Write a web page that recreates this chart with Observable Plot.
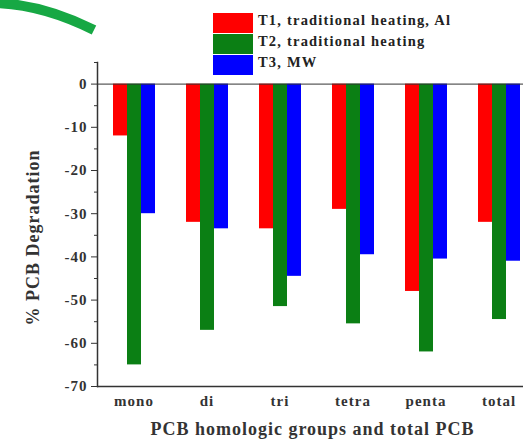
<!DOCTYPE html>
<html><head><meta charset="utf-8">
<script src="https://cdn.jsdelivr.net/npm/d3@7"></script>
<script src="https://cdn.jsdelivr.net/npm/@observablehq/plot@0.6"></script>
<style>
body{margin:0;background:#fff;}
#wrap{position:relative;width:523px;height:446px;overflow:hidden;font-family:"Liberation Serif","Times New Roman",serif;}
#legend{position:absolute;left:213px;top:12px;font-weight:bold;font-size:14.5px;letter-spacing:1.2px;color:#222;}
.row{display:flex;align-items:center;height:21px;}
.row span{position:relative;top:-2px;}
.sw{width:40px;height:20px;margin-right:5px;}
#deco{position:absolute;left:0;top:0;}
</style></head>
<body>
<div id="wrap"></div>
<script>
const categories = ["mono","di","tri","tetra","penta","total"];
const series = ["T1, traditional heating, Al","T2, traditional heating","T3, MW"];
const t1 = [-12, -32, -33.5, -29, -48, -32];
const t2 = [-65, -57, -51.5, -55.5, -62, -54.5];
const t3 = [-30, -33.5, -44.5, -39.5, -40.5, -41];
const colors = ["#ff0000", "#0b7f14", "#0000ff"];
const yTicks = [0, -10, -20, -30, -40, -50, -60, -70];
const yMinor = [5, -5, -15, -25, -35, -45, -55, -65];
const xTitle = "PCB homologic groups and total PCB";
const yTitle = "% PCB Degradation";

const values = [t1, t2, t3];
const data = categories.flatMap((c, i) => series.map((s, j) => ({c, s, v: values[j][i]})));
const font = '"Liberation Serif","Times New Roman",serif';

const chart = Plot.plot({
  width: 523, height: 446,
  marginLeft: 95, marginRight: -14, marginTop: 62, marginBottom: 60,
  style: {fontFamily: font, fontSize: "15px", fontWeight: "bold", letterSpacing: "1px", overflow: "hidden", background: "transparent"},
  fx: {domain: categories, paddingInner: 0, paddingOuter: 0, axis: null},
  x: {domain: series, axis: null, paddingInner: 0, paddingOuter: 1.01},
  y: {domain: [-70, 5], axis: null},
  color: {domain: series, range: colors},
  marks: [
    Plot.barY(data, {fx: "c", x: "s", y: "v", fill: "s"}),
    Plot.ruleY([0], {stroke: "#333", strokeWidth: 1}),
    Plot.ruleY([-70], {stroke: "#333", strokeWidth: 1.5}),
    Plot.frame({anchor: "left", facetAnchor: "left", stroke: "#333", strokeWidth: 1.5}),
    Plot.axisY({ticks: yTicks, tickSize: 6, tickPadding: 4, tickFormat: d => String(d), label: null, stroke: "#333", fill: "#333", fontSize: 15}),
    Plot.axisY({ticks: yMinor, tickSize: 3, tickFormat: () => "", label: null, stroke: "#333"}),
    Plot.axisFx({anchor: "bottom", tickSize: 0, tickPadding: 9, label: null, fontSize: 15, fill: "#333"}),
    Plot.text([yTitle], {facet: "super", frameAnchor: "left", textAnchor: "middle", rotate: -90, dx: -64, dy: 13, fontSize: 18, fill: "#333"}),
    Plot.text([xTitle], {facet: "super", frameAnchor: "bottom", dy: 48, dx: -4, fontSize: 18, fill: "#333"})
  ]
});
const wrap = document.getElementById("wrap");
wrap.appendChild(chart);

const legend = document.createElement("div");
legend.id = "legend";
series.forEach((s, i) => {
  const row = document.createElement("div");
  row.className = "row";
  const sw = document.createElement("div");
  sw.className = "sw";
  sw.style.background = colors[i];
  const t = document.createElement("span");
  t.textContent = s;
  row.appendChild(sw); row.appendChild(t);
  legend.appendChild(row);
});
wrap.appendChild(legend);

const ns = "http://www.w3.org/2000/svg";
const deco = document.createElementNS(ns, "svg");
deco.setAttribute("id", "deco");
deco.setAttribute("width", "110");
deco.setAttribute("height", "45");
const p = document.createElementNS(ns, "path");
p.setAttribute("d", "M-5,3 C30,4 62,14 94,30");
p.setAttribute("stroke", "#17a844");
p.setAttribute("stroke-width", "10");
p.setAttribute("fill", "none");
deco.appendChild(p);
wrap.appendChild(deco);
</script>
</body></html>
